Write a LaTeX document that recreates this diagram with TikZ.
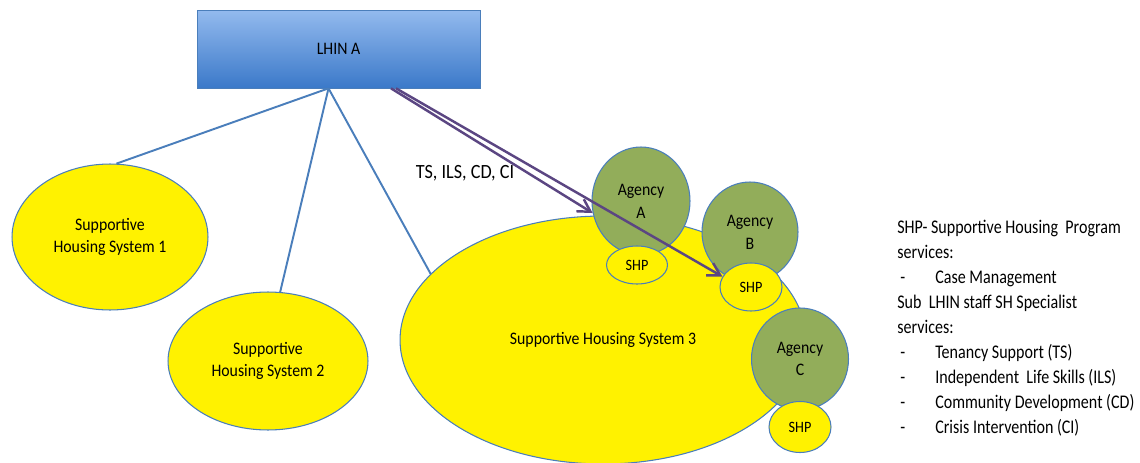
\documentclass[tikz,border=0pt]{standalone}
\usepackage{fontspec}
\setmainfont{Carlito}[FakeStretch=0.9]
\newfontfamily\legendfont{Carlito}[FakeStretch=0.83]
\usetikzlibrary{arrows.meta}
\usetikzlibrary{shapes.geometric}
\definecolor{lhintop}{HTML}{93BAEE}
\definecolor{lhinbot}{HTML}{3B79C9}
\definecolor{edgeblue}{HTML}{4A7EBB}
\definecolor{agencygreen}{HTML}{92AD5A}
\definecolor{arrowpurple}{HTML}{5B4682}
\tikzset{sys/.style = {draw=edgeblue, line width=0.6pt, fill=yellow, ellipse, inner sep=1pt, align=center, font=\fontsize{10}{13}\selectfont},
  agency/.style = {sys, fill=agencygreen},
  shp/.style = {sys, font=\fontsize{9}{11}\selectfont},
  link/.style = {draw=edgeblue, line width=1.1pt},
  svc/.style = {draw=arrowpurple, line width=1.4pt, -{Straight Barb[length=7pt,width=8pt]}}}
\newcommand{\legitem}[1]{\makebox[0.76cm][l]{\hspace{0.06cm}-}#1}

\begin{document}
\begin{tikzpicture}[x=0.02cm, y=-0.02cm]
      \useasboundingbox (0,0) rectangle (1140,463);
      \node [draw=edgeblue, top color=lhintop, bottom color=lhinbot, minimum width=5.66cm, minimum height=1.56cm, font=\fontsize{10}{12}\selectfont] (lhin) at (338.5,49) {LHIN A};
      \node [sys, minimum width=3.92cm, minimum height=2.92cm] (sys1) at (110,237) {Supportive\\Housing System 1};
      \node [sys, minimum width=4cm, minimum height=2.76cm] (sys2) at (268,361) {Supportive\\Housing System 2};
      \node [sys, minimum width=8.12cm, minimum height=4.96cm] (sys3) at (603,340) {Supportive Housing System 3};
      \node [agency, minimum width=1.96cm, minimum height=2.16cm] (agA) at (641,201) {Agency\\A};
      \node [agency, minimum width=1.92cm, minimum height=2cm] (agB) at (750,232) {Agency\\B};
      \node [agency, minimum width=1.94cm, minimum height=2.04cm] (agC) at (800,359) {Agency\\C};
      \node [shp, minimum width=1.22cm, minimum height=0.76cm] (shpA) at (637,265) {SHP};
      \node [shp, minimum width=1.24cm, minimum height=0.96cm] (shpB) at (751,287) {SHP};
      \node [shp, minimum width=1.24cm, minimum height=1.02cm] (shpC) at (800,427) {SHP};
      \draw [link] ([xshift=-0.2cm]lhin.south) -- (sys1.85);
      \draw [link] ([xshift=-0.2cm]lhin.south) -- (sys2.80);
      \draw [link] ([xshift=-0.2cm]lhin.south) -- (sys3.159);
      \draw [svc] ([xshift=1.05cm]lhin.south) -- (agA.194);
      \draw [svc] ([xshift=1.15cm]lhin.south) -- (shpB.160);
      \node [font=\fontsize{11.5}{14}\selectfont] (svclabel) at (465,173) {TS, ILS, CD, CI};
      \node [anchor=north west, inner sep=0, align=left, font=\legendfont\fontsize{11}{14.2}\selectfont] (legend) at (897,220) {SHP- Supportive Housing~ Program\\services:\\\legitem{Case Management}\\Sub~ LHIN staff SH Specialist\\services:\\\legitem{Tenancy Support (TS)}\\\legitem{Independent~ Life Skills (ILS)}\\\legitem{Community Development (CD)}\\\legitem{Crisis Intervention (CI)}};
    \end{tikzpicture}
\end{document}
